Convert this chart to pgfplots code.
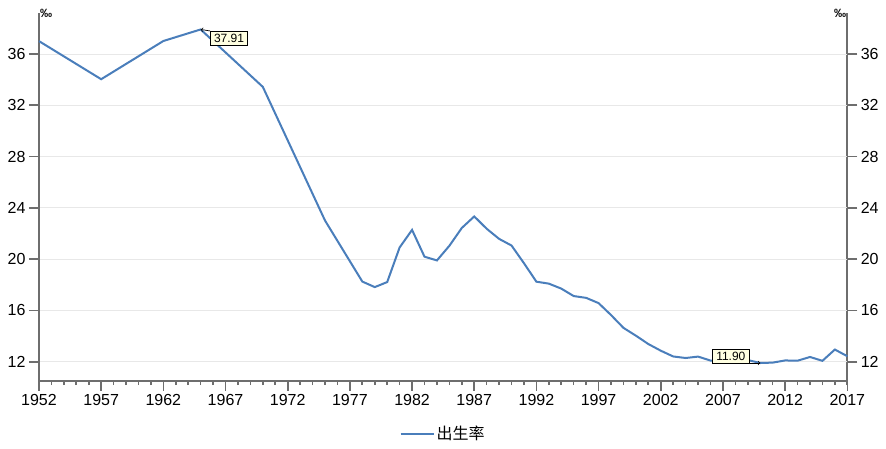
\documentclass[border=0pt]{standalone}
\usepackage{fontspec}
\setmainfont{Liberation Sans}
\newfontfamily\cjk{Noto Sans CJK SC}
\usepackage{pgfplots}
\pgfplotsset{compat=1.18}
\definecolor{lineblue}{HTML}{4A7EBB}
\definecolor{axisgray}{HTML}{6E6E6E}
\definecolor{gridgray}{HTML}{E8E8E8}
\definecolor{tipfill}{HTML}{FFFFE1}
\pgfplotsset{
  base/.style={
    at={(0,0)}, anchor=south west,
    scale only axis, width=808.3pt, height=367.4pt,
    xmin=1952, xmax=2017, ymin=10.52, ymax=39.17,
    axis line style={axisgray, line width=2pt},
    tick style={axisgray, line width=1.6pt},
    major tick length=10pt, minor tick length=4.5pt,
    /pgf/number format/assume math mode=true,
    ticklabel style={font=\fontsize{16}{16}\selectfont, text=black},
  },
}
\begin{document}
\begin{tikzpicture}
% left minor ticks (inside)
\begin{axis}[base, axis y line*=left, axis x line=none,
  tick align=inside, ytick=\empty, minor ytick={14,18,...,38}, yticklabels={}]
\end{axis}
% right minor ticks (inside)
\begin{axis}[base, axis y line*=right, axis x line=none,
  tick align=inside, ytick=\empty, minor ytick={14,18,...,38}, yticklabels={}]
\end{axis}
% right major ticks with labels
\begin{axis}[base, axis y line*=right, axis x line=none,
  tick align=outside, ytick={12,16,...,36}, minor ytick={}]
\end{axis}
% main axis
\begin{axis}[base, axis y line*=left, axis x line*=bottom,
  tick align=outside,
  ytick={12,16,...,36},
  xtick={1952,1957,...,2017}, minor xtick={1952,...,2017},
  x tick label style={/pgf/number format/1000 sep={}},
  ymajorgrids, grid style={gridgray, line width=0.8pt},
  legend style={at={(0.5,-0.144)}, anchor=center, draw=none, fill=none,
    font=\cjk\fontsize{16}{16}\selectfont},
  legend image code/.code={\draw[lineblue, line width=2pt] (0pt,0pt) -- (33pt,0pt);},
  clip=false,
]
\addplot[lineblue, line width=2pt] coordinates {
(1952,37.00) (1957,34.03) (1962,37.01) (1965,37.91) (1970,33.43) (1975,23.01)
(1978,18.25) (1979,17.82) (1980,18.21) (1981,20.91) (1982,22.28) (1983,20.19)
(1984,19.90) (1985,21.04) (1986,22.43) (1987,23.33) (1988,22.37) (1989,21.58)
(1990,21.06) (1991,19.68) (1992,18.24) (1993,18.09) (1994,17.70) (1995,17.12)
(1996,16.98) (1997,16.57) (1998,15.64) (1999,14.64) (2000,14.03) (2001,13.38)
(2002,12.86) (2003,12.41) (2004,12.29) (2005,12.40) (2006,12.09) (2007,12.10)
(2008,12.14) (2009,12.13) (2010,11.90) (2011,11.93) (2012,12.10) (2013,12.08)
(2014,12.37) (2015,12.07) (2016,12.95) (2017,12.43)
};
\addlegendentry{出生率}
% tooltips
\node[draw=black, line width=0.7pt, fill=tipfill, inner xsep=3.5pt, inner ysep=3pt, anchor=north west,
  font=\fontsize{12}{12}\selectfont] (tA) at ([xshift=9.5pt,yshift=-1.5pt]axis cs:1965,37.91) {37.91};
\draw[-to, line width=0.7pt] (tA.north west) -- (axis cs:1965,37.91);
\node[draw=black, line width=0.7pt, fill=tipfill, inner xsep=3.5pt, inner ysep=3pt, anchor=south east,
  font=\fontsize{12}{12}\selectfont] (tB) at ([xshift=-11pt,yshift=-1pt]axis cs:2010,11.90) {11.90};
\draw[-to, line width=0.7pt] ([yshift=1pt]tB.south east) -- (axis cs:2010,11.90);
% per-mille unit labels
\node[anchor=west, inner sep=0pt, font=\bfseries\fontsize{12}{12}\selectfont] at ([xshift=1pt,yshift=-0.5pt]rel axis cs:0,1) {‰};
\node[anchor=east, inner sep=0pt, font=\bfseries\fontsize{12}{12}\selectfont] at ([xshift=-1pt,yshift=-0.5pt]rel axis cs:1,1) {‰};
\end{axis}
\pgfresetboundingbox
\path[use as bounding box] (-39pt,-67.3pt) rectangle (847pt,380.7pt);
\end{tikzpicture}
\end{document}
